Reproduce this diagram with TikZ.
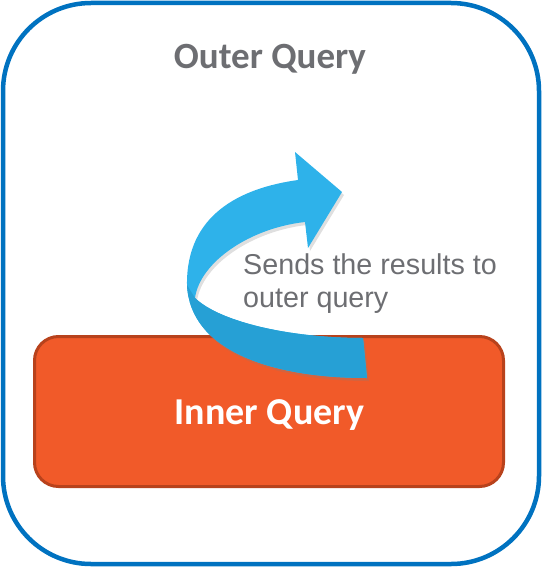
\documentclass[tikz,border=0pt]{standalone}
\usepackage{fontspec}
\setmainfont{Carlito}
\newfontfamily\notefont{Liberation Sans}
\usetikzlibrary{shadows}
\definecolor{outerblue}{RGB}{0,114,192}
\definecolor{innerfill}{RGB}{241,90,41}
\definecolor{innerline}{RGB}{184,66,28}
\definecolor{labelgray}{RGB}{109,110,114}
\definecolor{arrowfront}{RGB}{46,178,234}
\definecolor{arrowback}{RGB}{38,160,213}

\tikzset{
    outerbox/.style={draw=outerblue, line width=4.5pt, rounded corners=88pt,
        minimum width=536pt, minimum height=561pt, inner sep=0pt},
    innerbox/.style={draw=innerline, fill=innerfill, line width=3pt, rounded corners=24pt,
        minimum width=469pt, minimum height=150pt, inner sep=0pt},
    title/.style={text=labelgray, font=\fontsize{37}{42}\selectfont\bfseries, inner sep=0pt},
    note/.style={text=labelgray, align=left, inner sep=0pt,
        font=\notefont\fontsize{28.7}{33}\selectfont},
}

\begin{document}
\begin{tikzpicture}[x=1pt, y=-1pt]
    \useasboundingbox (0, 0) rectangle (559, 567);
    \node[outerbox] (outer) at (271, 283.5) {};
    \node[title, anchor=base] (outertitle) at (270, 69) {Outer Query};
    \node[innerbox] (inner) at (269, 411.5) {};
    \node[title, text=white, font=\fontsize{38}{42}\selectfont\bfseries, anchor=base]
        (innertitle) at (269.5, 424) {Inner Query};
    % curved ribbon arrow
    \fill[arrowfront, drop shadow={opacity=0.25, shadow xshift=2pt, shadow yshift=-3pt}]
        (367, 378) .. controls (270, 378) and (190, 350) .. (187, 285)
        .. controls (186, 215) and (240, 188) .. (298, 180)
        -- (295, 152) -- (342, 192) -- (308, 248) -- (305, 222)
        .. controls (250, 228) and (200, 262) .. (195, 298)
        .. controls (220, 322) and (290, 338) .. (363, 338) -- cycle;
    % back side of the twisted tail
    \fill[arrowback]
        (367, 378) .. controls (270, 378) and (190, 350) .. (187, 285)
        -- (195, 298)
        .. controls (220, 322) and (290, 338) .. (363, 338) -- cycle;
    \node[note, anchor=north west] (sendnote) at (243, 254)
        {Sends the results to\\outer query};
\end{tikzpicture}
\end{document}
